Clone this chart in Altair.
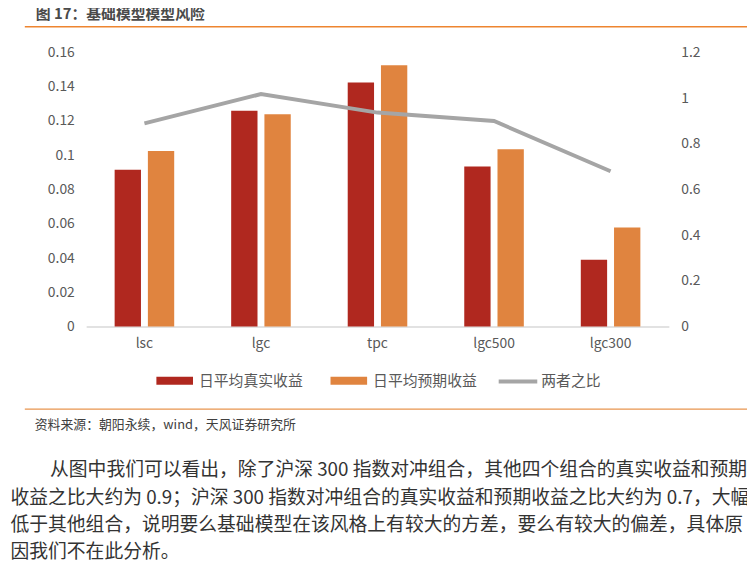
import altair as alt
import pandas as pd

categories = ["lsc", "lgc", "tpc", "lgc500", "lgc300"]
real_return = [0.0915, 0.126, 0.1425, 0.0935, 0.039]
expected_return = [0.1025, 0.124, 0.1525, 0.1035, 0.0578]
ratio = [0.89, 1.018, 0.937, 0.90, 0.68]
series_names = ["日平均真实收益", "日平均预期收益"]
line_name = "两者之比"
left_ticks = [0, 0.02, 0.04, 0.06, 0.08, 0.1, 0.12, 0.14, 0.16]
right_ticks = [0, 0.2, 0.4, 0.6, 0.8, 1.0, 1.2]

title_text = "图 17：基础模型模型风险"
source_text = "资料来源：朝阳永续，wind，天风证券研究所"
para_lines = [
    "从图中我们可以看出，除了沪深 300 指数对冲组合，其他四个组合的真实收益和预期",
    "收益之比大约为 0.9；沪深 300 指数对冲组合的真实收益和预期收益之比大约为 0.7，大幅",
    "低于其他组合，说明要么基础模型在该风格上有较大的方差，要么有较大的偏差，具体原",
    "因我们不在此分析。",
]

FONT = "Noto Sans CJK SC"
RED = "#B0281F"
ORANGE = "#E0843F"
GRAY = "#A5A5A5"
LABEL = "#595959"

bars_df = pd.DataFrame({
    "category": categories * 2,
    "series": [series_names[0]] * 5 + [series_names[1]] * 5,
    "value": real_return + expected_return,
})
line_df = pd.DataFrame({"category": categories, "ratio": ratio, "name": [line_name] * 5})

x_enc = alt.X(
    "category:N", sort=categories,
    scale=alt.Scale(paddingInner=0, paddingOuter=0),
    axis=alt.Axis(title=None, labelAngle=0, ticks=False, domainColor="#D9D9D9",
                  domainWidth=1.5, labelPadding=10, labelFontSize=14,
                  labelColor=LABEL, labelFont=FONT),
)

bars = alt.Chart(bars_df).mark_bar().encode(
    x=x_enc,
    xOffset=alt.XOffset("series:N", sort=series_names,
                        scale=alt.Scale(paddingInner=0.208, paddingOuter=0.857)),
    y=alt.Y("value:Q", scale=alt.Scale(domain=[0, 0.16], nice=False),
            axis=alt.Axis(title=None, values=left_ticks, format="~f", domain=False,
                          ticks=False, grid=False, labelPadding=12, labelFontSize=14,
                          labelColor=LABEL, labelFont=FONT)),
    fill=alt.Fill("series:N", sort=series_names,
                  scale=alt.Scale(domain=series_names, range=[RED, ORANGE]),
                  legend=alt.Legend(title=None, orient="none", legendX=70, legendY=312,
                                    direction="horizontal", columns=2, columnPadding=26,
                                    symbolType="M-1,-0.216H1V0.216H-1Z", symbolSize=1369,
                                    labelOffset=5, labelFontSize=15, labelColor=LABEL,
                                    labelFont=FONT, padding=0)),
)

line = alt.Chart(line_df).mark_line(strokeWidth=4).encode(
    x=x_enc,
    y=alt.Y("ratio:Q", scale=alt.Scale(domain=[0, 1.2], nice=False),
            axis=alt.Axis(title=None, orient="right", values=right_ticks, format="~f",
                          domain=False, ticks=False, grid=False, labelPadding=12,
                          labelFontSize=14, labelColor=LABEL, labelFont=FONT)),
    stroke=alt.Stroke("name:N", scale=alt.Scale(domain=[line_name], range=[GRAY]),
                      legend=alt.Legend(title=None, orient="none", legendX=415, legendY=311,
                                        symbolType="stroke", symbolSize=1521,
                                        symbolStrokeWidth=4, labelOffset=2,
                                        labelFontSize=15, labelColor=LABEL,
                                        labelFont=FONT, padding=0)),
)

one = pd.DataFrame({"k": [0]})

def txt(text, x, y, size, color, weight="normal", align="left"):
    return alt.Chart(one).mark_text(
        text=text, align=align, baseline="middle", fontSize=size, font=FONT,
        fontWeight=weight, color=color,
    ).encode(x=alt.value(x), y=alt.value(y))

def hrule(x1, x2, y, color, width):
    return alt.Chart(one).mark_rule(color=color, strokeWidth=width).encode(
        x=alt.value(x1), x2=alt.value(x2), y=alt.value(y))

annotations = [
    txt(title_text, -51, -38.5, 15, "#4a4a4a", weight="bold"),
    hrule(-62, 668, -26, "#EE8530", 1.5),
    hrule(-62, 668, 360.5, "#E8954F", 1.2),
    txt(source_text, -52, 377, 13, "#404040"),
]
para_y = [422.5, 450, 478, 504.5]
para_x = [-36.5, -76.5, -76.5, -76.5]
for t, xx, yy in zip(para_lines, para_x, para_y):
    annotations.append(txt(t, xx, yy, 19, "#333333"))

chart = alt.layer(bars, line, *annotations).resolve_scale(
    y="independent"
).resolve_legend(fill="independent", stroke="independent").properties(
    width=589, height=277,
    autosize=alt.AutoSizeParams(type="none"),
    padding={"left": 79, "top": 42, "right": 79, "bottom": 237},
    background="white",
).configure_view(stroke=None)

chart.save("out.html", embed_options={"renderer": "svg", "actions": False})
